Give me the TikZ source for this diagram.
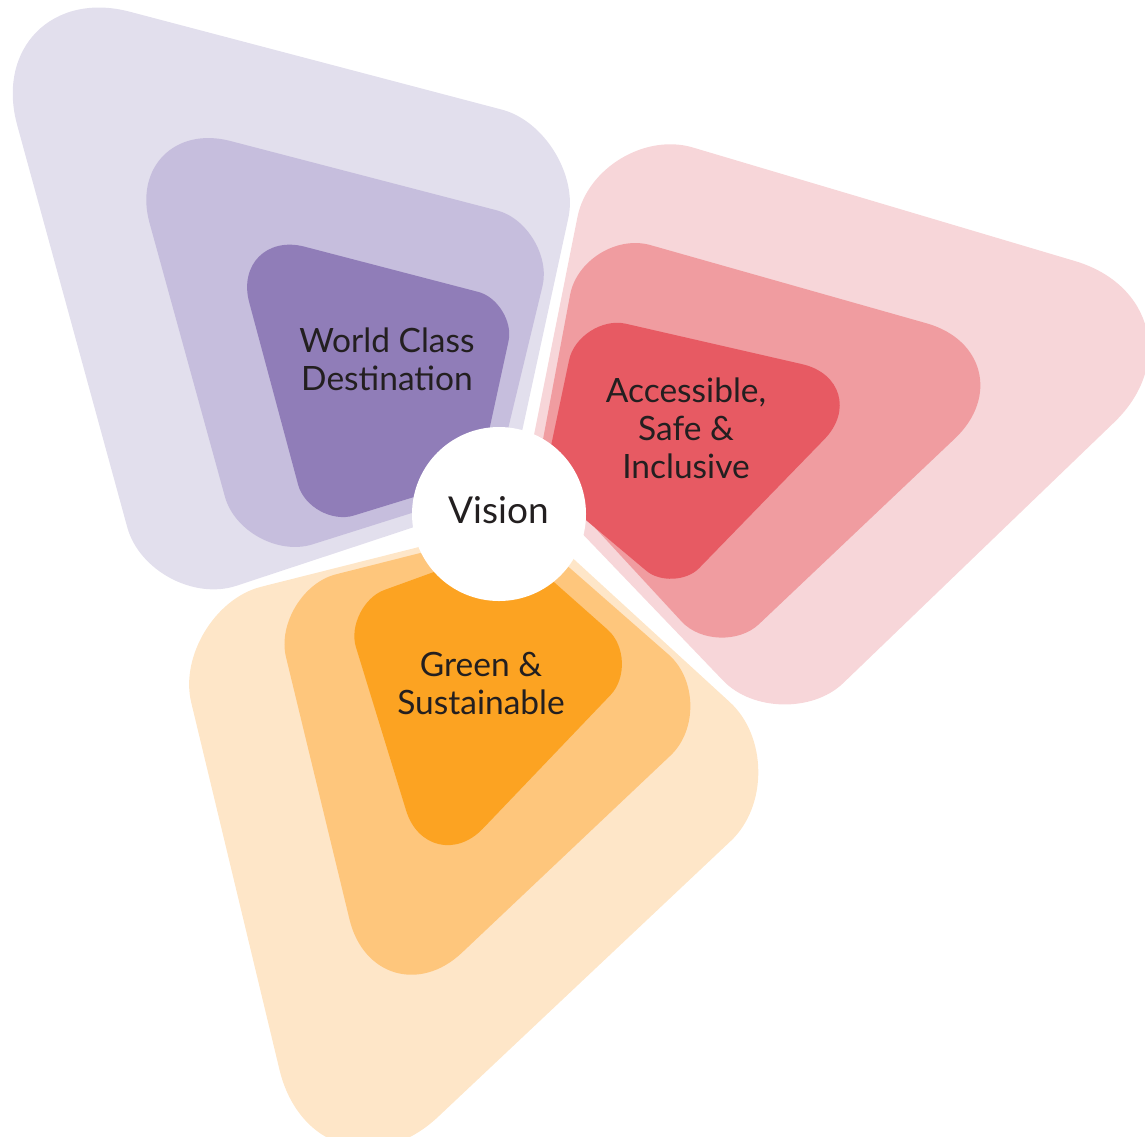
\documentclass[tikz,border=0pt]{standalone}
\usepackage{fontspec}
\setmainfont{Lato}
\usetikzlibrary{calc}

\definecolor{lilacpale}{HTML}{E2DFED}
\definecolor{lilacmid}{HTML}{C6BEDD}
\definecolor{lilacdeep}{HTML}{907DB8}
\definecolor{rosepale}{HTML}{F7D6D9}
\definecolor{rosemid}{HTML}{F09CA0}
\definecolor{rosedeep}{HTML}{E75A63}
\definecolor{amberpale}{HTML}{FEE6C8}
\definecolor{ambermid}{HTML}{FEC67C}
\definecolor{amberdeep}{HTML}{FCA322}
\definecolor{inkdark}{HTML}{231F20}

% one layer of a petal: four corners, each with its own rounding
\newcommand{\petallayer}[9]{%
  \pgfmathsetmacro\ca{#3/2}\pgfmathsetmacro\cb{#5/2}%
  \pgfmathsetmacro\cc{#7/2}\pgfmathsetmacro\cd{#9/2}%
  \fill[#1] ($(#2)!#3pt!(#4)$)
    -- ($(#4)!#5pt!(#2)$) .. controls ($(#4)!\cb pt!(#2)$) and ($(#4)!\cb pt!(#6)$) .. ($(#4)!#5pt!(#6)$)
    -- ($(#6)!#7pt!(#4)$) .. controls ($(#6)!\cc pt!(#4)$) and ($(#6)!\cc pt!(#8)$) .. ($(#6)!#7pt!(#8)$)
    -- ($(#8)!#9pt!(#6)$) .. controls ($(#8)!\cd pt!(#6)$) and ($(#8)!\cd pt!(#2)$) .. ($(#8)!#9pt!(#2)$)
    -- ($(#2)!#3pt!(#8)$) .. controls ($(#2)!\ca pt!(#8)$) and ($(#2)!\ca pt!(#4)$) .. ($(#2)!#3pt!(#4)$) -- cycle;%
}

\begin{document}
\begin{tikzpicture}[x=1pt, y=-1pt,
  lbl/.style={font=\fontsize{33.5}{38}\selectfont, text=inkdark, align=center, inner sep=0pt},
  hub/.style={circle, fill=white, minimum size=174pt, inner sep=0pt}]
  \useasboundingbox (0,0) rectangle (1145,1136);

  % World Class Destination (purple)
  \petallayer{lilacpale}{508,496}{10}{587,132}{88}{-25,-29}{160}{151,614}{90}
  \petallayer{lilacmid}{494,487}{10}{557,226}{62}{119,112}{115}{244,566}{72}
  \petallayer{lilacdeep}{479,477}{10}{517,302}{40}{229,227}{78}{310,529}{46}

  % Accessible, Safe & Inclusive (red)
  \petallayer{rosepale}{526,475}{10}{597,119}{100}{1233,308}{165}{782,742}{85}
  \petallayer{rosemid}{538,466}{10}{583,226}{70}{1042,356}{120}{719,662}{55}
  \petallayer{rosedeep}{543,484}{10}{579,313}{48}{880,382}{80}{674,594}{36}

  % Green & Sustainable (orange)
  \petallayer{amberpale}{530,519}{10}{169,610}{95}{318,1230}{165}{805,771}{102}
  \petallayer{ambermid}{523,527}{10}{270,591}{68}{377,1033}{117}{725,704}{75}
  \petallayer{amberdeep}{511,544}{10}{343,605}{44}{429,885}{78}{643,661}{47}

  % labels
  \node[lbl] (world) at (387,359) {World Class\\Destination};
  \node[lbl] (access) at (686,428) {Accessible,\\Safe \&\\Inclusive};
  \node[lbl] (green) at (481,683) {Green \&\\Sustainable};

  % centre
  \node[hub] (hubdisc) at (499,514) {};
  \node[lbl, font=\fontsize{37}{40}\selectfont, anchor=base] (vision) at (499,523) {Vision};
\end{tikzpicture}
\end{document}
